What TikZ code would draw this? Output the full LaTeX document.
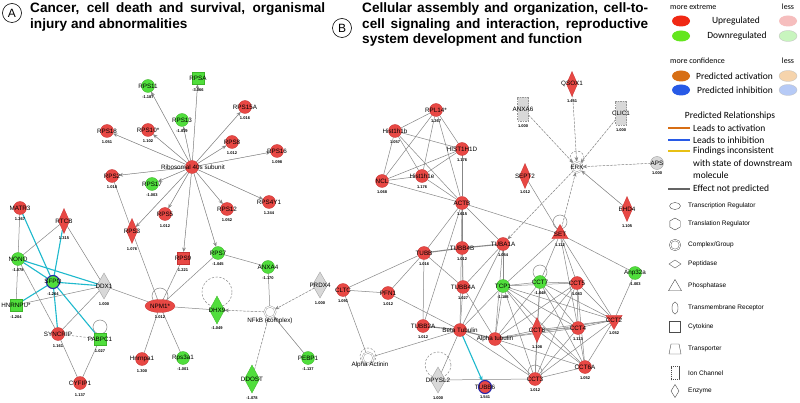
\documentclass[tikz,border=0pt]{standalone}
\usepackage{fontspec}
\setmainfont{Liberation Sans}
\newfontfamily\carl{Carlito}
\usetikzlibrary{shapes.geometric,arrows.meta}
\pgfdeclarelayer{bg}
\pgfdeclarelayer{back}
\pgfsetlayers{back,bg,main}
\definecolor{nred}{RGB}{232,72,68}
\definecolor{nredb}{RGB}{200,50,50}
\definecolor{ngreen}{RGB}{80,222,60}
\definecolor{ngreenb}{RGB}{60,180,40}
\definecolor{ngrey}{RGB}{216,216,216}
\definecolor{ngreyb}{RGB}{150,150,150}
\definecolor{eg}{RGB}{135,135,135}
\definecolor{ecyan}{RGB}{30,185,205}
\definecolor{nblue}{RGB}{40,40,170}
\definecolor{lred}{RGB}{240,40,20}
\definecolor{lpink}{RGB}{246,190,190}
\definecolor{lgreen}{RGB}{100,230,30}
\definecolor{llgreen}{RGB}{200,245,190}
\definecolor{lorange}{RGB}{215,110,20}
\definecolor{llorange}{RGB}{246,212,172}
\definecolor{lblue}{RGB}{40,90,230}
\definecolor{llblue}{RGB}{182,202,246}
\definecolor{lyellow}{RGB}{232,192,20}
\definecolor{lgrey}{RGB}{100,100,100}
\tikzset{
 nb/.style={inner sep=0pt,outer sep=0pt,line width=0.3pt},
 rc/.style={nb,circle,minimum size=13pt,fill=nred,draw=nredb},
 gc/.style={nb,circle,minimum size=13pt,fill=ngreen,draw=ngreenb},
 yc/.style={nb,circle,minimum size=13pt,fill=ngrey,draw=ngreyb},
 rsq/.style={nb,rectangle,minimum size=12pt,fill=nred,draw=nredb},
 gsq/.style={nb,rectangle,minimum size=12.5pt,fill=ngreen,draw=ngreenb},
 rdia/.style={nb,diamond,minimum width=11pt,minimum height=25pt,fill=nred,draw=nredb},
 gdia/.style={nb,diamond,minimum width=15pt,minimum height=28pt,fill=ngreen,draw=ngreenb},
 ydia/.style={nb,diamond,minimum width=15pt,minimum height=26pt,fill=ngrey,draw=ngreyb},
 yrect/.style={nb,rectangle,minimum width=11pt,minimum height=24pt,fill=ngrey,draw=ngreyb,dash pattern=on 1.5pt off 1pt},
 rell/.style={nb,ellipse,minimum width=30pt,minimum height=13pt,fill=nred,draw=nredb},
 rtri/.style={nb,regular polygon,regular polygon sides=3,minimum size=19pt,fill=nred,draw=nredb},
 rtrid/.style={rtri,shape border rotate=180},
 cplx/.style={nb,circle,minimum size=11pt,draw=ngreyb,double=white,double distance=1pt,line width=0.4pt,fill=white},
 lab/.style={inner sep=0pt,font=\fontsize{6.3}{7}\selectfont},
 val/.style={inner sep=0pt,font=\bfseries\fontsize{4}{4}\selectfont},
 e/.style={draw=eg,line width=0.5pt},
 tk/.style={line width=1.1pt},
 dsh/.style={dash pattern=on 2.2pt off 1.6pt},
 arr/.style={-{Stealth[length=4.5pt,width=3.6pt]},fill=eg},
 cy/.style={draw=ecyan,line width=1.1pt},
 ttl/.style={inner sep=0pt,anchor=base west,font=\bfseries\fontsize{13.6}{16}\selectfont},
 lsm/.style={inner sep=0pt,font=\carl\fontsize{8}{9}\selectfont},
 lmd/.style={inner sep=0pt,font=\carl\fontsize{9.5}{11}\selectfont},
 lsh/.style={inner sep=0pt,anchor=west,font=\fontsize{6.5}{7}\selectfont},
 lel/.style={nb,ellipse,minimum width=18pt,minimum height=11pt},
 lln/.style={line width=1.8pt},
 lshape/.style={nb,draw=black!70,line width=0.4pt,fill=white}
}
\newcommand\nd[7]{\node[#1] (#2) at (#3,#4) {};\node[lab] (#2l) at (#3,#4) {#5};\node[val] (#2v) at (#3,#7) {#6};}
\begin{document}
\begin{tikzpicture}[x=1pt,y=-1pt]
\begin{pgfonlayer}{back}
\path[use as bounding box,fill=white] (0,0) rectangle (800,403);
\end{pgfonlayer}
% titles
\node[circle,draw,line width=0.6pt,minimum size=19pt,inner sep=0pt,font=\fontsize{12}{12}\selectfont] (ca) at (12,13) {A};
\node[ttl] (ta1) at (30,13) {\makebox[295pt][s]{Cancer, cell death and survival, organismal}};
\node[ttl] (ta2) at (30,28.5) {injury and abnormalities};
\node[circle,draw,line width=0.6pt,minimum size=19pt,inner sep=0pt,font=\fontsize{12}{12}\selectfont] (cb) at (342,28) {B};
\node[ttl] (tb1) at (362,13) {\makebox[286pt][s]{Cellular assembly and organization, cell-to-}};
\node[ttl] (tb2) at (362,28.5) {\makebox[286pt][s]{cell signaling and interaction, reproductive}};
\node[ttl] (tb3) at (362,44) {system development and function};
% ---------- panel A nodes
\node[rc] (hub) at (192,167) {};\node[lab] (hubl) at (193,167) {Ribosomal 40s subunit};
\nd{gc}{rps11}{148}{86}{RPS11}{-1.187}{97}
\nd{gsq}{rpsa}{198}{78}{RPSA}{-3.066}{90}
\nd{gc}{rps13}{182}{120}{RPS13}{-1.019}{131}
\nd{rc}{rps15a}{245}{107}{RPS15A}{1.016}{118}
\nd{rc}{rps18}{107}{131}{RPS18}{1.051}{142}
\nd{rc}{rps10}{148}{130}{RPS10*}{1.102}{141}
\nd{rc}{rps8}{232}{142}{RPS8}{1.012}{153}
\nd{rc}{rps16}{277}{151}{RPS16}{1.098}{162}
\nd{rc}{rps2}{112}{176}{RPS2}{1.018}{187}
\nd{gc}{rps17}{152}{184}{RPS17}{-1.003}{195}
\nd{rc}{rps12}{227}{209}{RPS12}{1.052}{220}
\nd{rc}{rps4y1}{269}{202}{RPS4Y1}{1.244}{213}
\nd{rc}{rps5}{165}{214}{RPS5}{1.012}{226}
\nd{rdia}{rps3}{132}{231}{RPS3}{1.076}{249}
\nd{rsq}{rps9}{183}{258}{RPS9}{1.221}{270}
\nd{gc}{rps7}{218}{253}{RPS7}{-1.045}{264}
\nd{gc}{anxa4}{268}{267}{ANXA4}{-1.170}{278}
\nd{rell}{npm1}{160}{306}{NPM1*}{1.012}{317}
\nd{gdia}{dhx9}{217}{310}{DHX9}{-1.049}{328}
\node[cplx] (nfkb) at (270,312) {};\node[lab] (nfkbl) at (270,321) {NFkB (complex)};
\nd{ydia}{prdx4}{320}{285}{PRDX4}{1.000}{303}
\nd{gc}{pebp1}{308}{358}{PEBP1}{-1.137}{369}
\nd{gdia}{ddost}{252}{379}{DDOST}{-1.078}{398}
\nd{gc}{rps3a1}{183}{358}{Rps3a1}{-1.001}{369}
\nd{rc}{hnrnpa1}{142}{359}{Hnrnpa1}{1.300}{371}
\nd{rc}{cyfip1}{80}{383}{CYFIP1}{1.137}{395}
\nd{rc}{syncrip}{58}{334}{SYNCRIP}{1.161}{346}
\nd{gsq}{pabpc1}{100}{339}{PABPC1}{1.027}{351}
\nd{ydia}{ddx1}{104}{286}{DDX1}{1.000}{304}
\nd{gc,draw=nblue,line width=1.1pt}{sfpq}{53}{282}{SFPQ}{-1.264}{294}
\nd{gc}{nono}{18}{259}{NONO}{-1.078}{270}
\nd{gsq}{hnrnpu}{16}{305}{HNRNPU*}{-1.204}{317}
\nd{rdia}{rtcb}{64}{221}{RTCB}{1.315}{238}
\nd{rc}{matr3}{20}{208}{MATR3}{1.267}{219}
% ---------- panel B nodes
\nd{rc}{rpl14}{436}{110}{RPL14*}{1.267}{121}
\nd{rc}{h1b}{395}{131}{Hist1h1b}{1.057}{142}
\nd{rc}{h1d}{462}{149}{HIST1H1D}{1.176}{160}
\nd{rc}{ncl}{382}{181}{NCL}{1.068}{192}
\nd{rc}{h1e}{422}{176}{Hist1h1e}{1.176}{187}
\nd{rc}{actb}{462}{203}{ACTB}{1.615}{214}
\nd{yrect}{anxa6}{523}{109}{ANXA6}{1.000}{126}
\nd{rdia}{qsox1}{572}{84}{QSOX1}{1.451}{101}
\nd{yrect}{clic1}{621}{113}{CLIC1}{1.000}{130}
\node[cplx] (erk) at (577,167) {};\node[lab] (erkl) at (577,167) {ERK};
\nd{yc}{aps}{657}{163}{APS}{1.000}{173}
\nd{rdia}{sept2}{525}{176}{SEPT2}{1.012}{192}
\nd{rdia}{ehd4}{627}{209}{EHD4}{1.105}{226}
\nd{rtri}{set}{560}{234}{SET}{1.112}{245}
\nd{gc}{anp32a}{635}{273}{Anp32a}{-1.003}{284}
\nd{gc}{cct7}{540}{282}{CCT7}{-1.048}{293}
\nd{rc}{cct5}{577}{283}{CCT5}{1.083}{294}
\nd{rtrid}{cct2}{614}{320}{CCT2}{1.052}{333}
\nd{rc}{cct4}{578}{328}{CCT4}{1.113}{339}
\nd{rdia}{cct8}{537}{330}{CCT8}{1.108}{347}
\nd{rc}{cct6a}{585}{367}{CCT6A}{1.052}{378}
\nd{rc}{cct3}{535}{379}{CCT3}{1.012}{390}
\nd{gc}{tcp1}{503}{286}{TCP1}{-1.188}{297}
\nd{rc}{tubb}{424}{253}{TUBB}{1.016}{264}
\nd{rc}{tubb4b}{462}{248}{TUBB4B}{1.012}{259}
\nd{rc}{tuba1a}{503}{244}{TUBA1A}{1.054}{255}
\nd{rc}{tubb4a}{463}{287}{TUBB4A}{1.027}{298}
\nd{rc}{pfn1}{388}{293}{PFN1}{1.012}{304}
\nd{rc}{tubb2a}{423}{326}{TUBB2A}{1.012}{337}
\node[rc] (beta) at (460,330) {};\node[lab] (betal) at (460,330) {Beta Tubulin};
\node[rc] (alpha) at (495,339) {};\node[lab] (alphal) at (495,339) {Alpha tubulin};
\node[cplx] (actinin) at (368,358) {};\node[lab] (actininl) at (370,365) {Alpha Actinin};
\nd{ydia}{dpysl2}{438}{380}{DPYSL2}{1.000}{398}
\nd{rc,draw=nblue,line width=1.1pt}{tubb6}{485}{387}{TUBB6}{1.541}{397}
\nd{rc}{cltc}{343}{290}{CLTC}{1.091}{301}
% ---------- edges
\begin{pgfonlayer}{bg}
\foreach \t in {rps11,rpsa,rps13,rps15a,rps18,rps10,rps8,rps16,rps2,rps17,rps12,rps4y1,rps5,rps3,rps9,rps7}
  \draw[e,arr] (hub) -- (\t);
\draw[e] (rps2) -- (rps3);
\foreach \t in {rps3,rps9,rps7,dhx9,rps3a1,hnrnpa1,ddx1}
  \draw[e] (npm1) -- (\t);
\draw[e] ([yshift=10pt]npm1.center) circle (8pt);
\draw[e] (rps7) -- (anxa4);
\draw[e] (anxa4) -- (nfkb);
\draw[e,dsh,arr] (nfkb) -- (dhx9);
\draw[e,dsh,arr] (ddost) -- (nfkb);
\draw[e,arr] (pebp1) -- (nfkb);
\draw[e,dsh,arr] (prdx4) -- (nfkb);
\draw[e,dsh] ([yshift=18pt]dhx9.center) circle (15pt);
\foreach \t in {matr3,nono,hnrnpu,rtcb,ddx1,syncrip,pabpc1}
  \draw[cy] (sfpq) -- (\t);
\draw[cy] (nono) -- (ddx1);
\draw[e] (matr3) -- (nono);
\draw[e] (rtcb) -- (nono);
\draw[e] (rtcb) -- (ddx1);
\draw[e] (nono) -- (hnrnpu);
\draw[e] (nono) -- (syncrip);
\draw[e] (hnrnpu) -- (ddx1);
\draw[e] (syncrip) -- (ddx1);
\draw[e,dsh] (syncrip) -- (pabpc1);
\draw[e] (syncrip) -- (cyfip1);
\draw[e] (pabpc1) -- (cyfip1);
\draw[e] ([yshift=12pt]pabpc1.center) circle (7pt);
% panel B
\foreach \a/\b in {rpl14/h1b,rpl14/h1d,rpl14/ncl,rpl14/h1e,rpl14/actb,h1b/h1d,h1b/ncl,h1b/h1e,h1b/actb,h1d/ncl,h1d/h1e,h1d/actb,ncl/h1e,ncl/actb,h1e/actb}
  \draw[e] (\a) -- (\b);
\foreach \t in {tubb,tubb4b,tuba1a,tubb4a,set,beta,tubb2a}
  \draw[e] (actb) -- (\t);
\foreach \t in {anxa6,qsox1,clic1,aps}
  \draw[e,dsh,arr] (\t) -- (erk);
\draw[e,arr] (ehd4) -- (erk);
\draw[e,dsh,arr] (set) -- (erk);
\draw[e,dsh,arr] (erk) -- (tuba1a);
\draw[e,dsh] ([yshift=9pt]erk.center) circle (7pt);
\draw[e] (sept2) -- (set);
\draw[e] ([yshift=12pt]set.center) circle (7pt);
\foreach \t in {anp32a,cct7,cct5,cct4,cct2,tcp1}
  \draw[e] (set) -- (\t);
\draw[e] (anp32a) -- (cct2);
\draw[e,tk] (tubb) -- (tubb4b);
\draw[e,tk] (tubb4b) -- (tuba1a);
\draw[e,tk] (tubb2a) -- (beta);
\draw[e,tk] (beta) -- (alpha);
\foreach \a/\b in {tubb/tubb4a,tubb/tubb2a,tubb/pfn1,tubb4b/tubb4a,tuba1a/tcp1,tuba1a/tubb4a,tuba1a/beta,tuba1a/alpha,tubb4a/beta,tubb4a/alpha,pfn1/beta,cltc/pfn1,cltc/tubb,cltc/actinin,actinin/beta,beta/tcp1,beta/cct3,beta/dpysl2,dpysl2/cct3,alpha/cct7,alpha/cct8,alpha/cct4,alpha/cct5,alpha/cct3,alpha/cct6a,alpha/cct2,alpha/tcp1}
  \draw[e] (\a) -- (\b);
\foreach \a/\l in {tcp1/{cct7,cct5,cct8,cct4,cct2,cct6a,cct3},cct7/{cct5,cct8,cct4,cct2,cct6a,cct3},cct5/{cct8,cct4,cct2,cct6a,cct3},cct8/{cct4,cct2,cct6a,cct3},cct4/{cct2,cct6a,cct3},cct2/{cct6a,cct3},cct6a/{cct3}}
  \foreach \b in \l \draw[e] (\a) -- (\b);
\draw[e] ([yshift=10pt]cct7.center) circle (7pt);
\draw[e] ([yshift=7pt]cct3.center) circle (7pt);
\draw[e,dsh] ([yshift=15pt]dpysl2.center) circle (13pt);
\draw[e,dsh] ([yshift=2pt]actinin.center) circle (8pt);
\draw[cy,-{Stealth[length=5pt,width=4pt]}] (beta) -- (tubb6);
\end{pgfonlayer}
% ---------- legend
\node[lsm,anchor=west] (lme) at (670,7) {more extreme};
\node[lsm] (lle1) at (788,7) {less};
\node[lel,fill=lred] (le1) at (681,21) {};
\node[lmd] (lt1) at (736,21) {Upregulated};
\node[lel,fill=lpink] (le2) at (788,21) {};
\node[lel,fill=lgreen] (le3) at (681,36) {};
\node[lmd] (lt2) at (737,36) {Downregulated};
\node[lel,fill=llgreen,draw=black!25,line width=0.3pt] (le4) at (788,36) {};
\node[lsm,anchor=west] (lmc) at (670,61) {more confidence};
\node[lsm] (lle2) at (788,61) {less};
\node[lel,fill=lorange] (le5) at (681,76) {};
\node[lmd] (lt3) at (734.5,76) {Predicted activation};
\node[lel,fill=llorange,draw=black!25,line width=0.3pt] (le6) at (788,76) {};
\node[lel,fill=lblue] (le7) at (681,90) {};
\node[lmd] (lt4) at (735,90) {Predicted inhibition};
\node[lel,fill=llblue,draw=black!25,line width=0.3pt] (le8) at (788,90) {};
\node[lmd] (lpr) at (730,116) {Predicted Relationships};
\coordinate (la1) at (668,128);\coordinate (la2) at (690,128);
\draw[lln,draw=lorange] (la1) -- (la2);
\node[lmd,anchor=west] (lr1) at (693,128) {Leads to activation};
\coordinate (lb1) at (668,140);\coordinate (lb2) at (690,140);
\draw[lln,draw=lblue] (lb1) -- (lb2);
\node[lmd,anchor=west] (lr2) at (693,140) {Leads to inhibition};
\coordinate (lc1) at (668,151);\coordinate (lc2) at (690,151);
\draw[lln,draw=lyellow] (lc1) -- (lc2);
\node[lmd,anchor=west] (lr3) at (693,151) {Findings inconsistent};
\node[lmd,anchor=west] (lr4) at (693,163) {with state of downstream};
\node[lmd,anchor=west] (lr5) at (693,175) {molecule};
\coordinate (ld1) at (668,189);\coordinate (ld2) at (690,189);
\draw[lln,draw=lgrey] (ld1) -- (ld2);
\node[lmd,anchor=west] (lr6) at (693,189) {Effect not predicted};
% shapes legend
\node[lshape,ellipse,minimum width=11pt,minimum height=7pt] (s1) at (675,206) {};
\node[lsh] (s1l) at (688,206) {Transcription Regulator};
\node[lshape,regular polygon,regular polygon sides=6,minimum size=12pt,shape border rotate=30] (s2) at (675,224) {};
\node[lsh] (s2l) at (688,224) {Translation Regulator};
\node[lshape,circle,minimum size=10pt,double=white,double distance=1pt] (s3) at (675,245) {};
\node[lsh] (s3l) at (688,245) {Complex/Group};
\node[lshape,diamond,minimum width=12pt,minimum height=8pt] (s4) at (675,264) {};
\node[lsh] (s4l) at (688,264) {Peptidase};
\node[lshape,regular polygon,regular polygon sides=3,minimum size=15pt] (s5) at (675,287) {};
\node[lsh] (s5l) at (688,286) {Phosphatase};
\node[lshape,ellipse,minimum width=6pt,minimum height=12pt] (s6) at (675,308) {};
\node[lsh] (s6l) at (688,308) {Transmembrane Receptor};
\node[lshape,rectangle,minimum size=11pt] (s7) at (675,327) {};
\node[lsh] (s7l) at (688,327) {Cytokine};
\draw[lshape] (669,354) -- (681,354) -- (679,344) -- (671,344) -- cycle;
\node[lsh] (s8l) at (688,349) {Transporter};
\node[lshape,rectangle,minimum width=8pt,minimum height=13pt,dash pattern=on 1.2pt off 0.8pt] (s9) at (675,373) {};
\node[lsh] (s9l) at (688,373) {Ion Channel};
\node[lshape,diamond,minimum width=8pt,minimum height=13pt] (s10) at (675,391) {};
\node[lsh] (s10l) at (688,391) {Enzyme};
\end{tikzpicture}
\end{document}
